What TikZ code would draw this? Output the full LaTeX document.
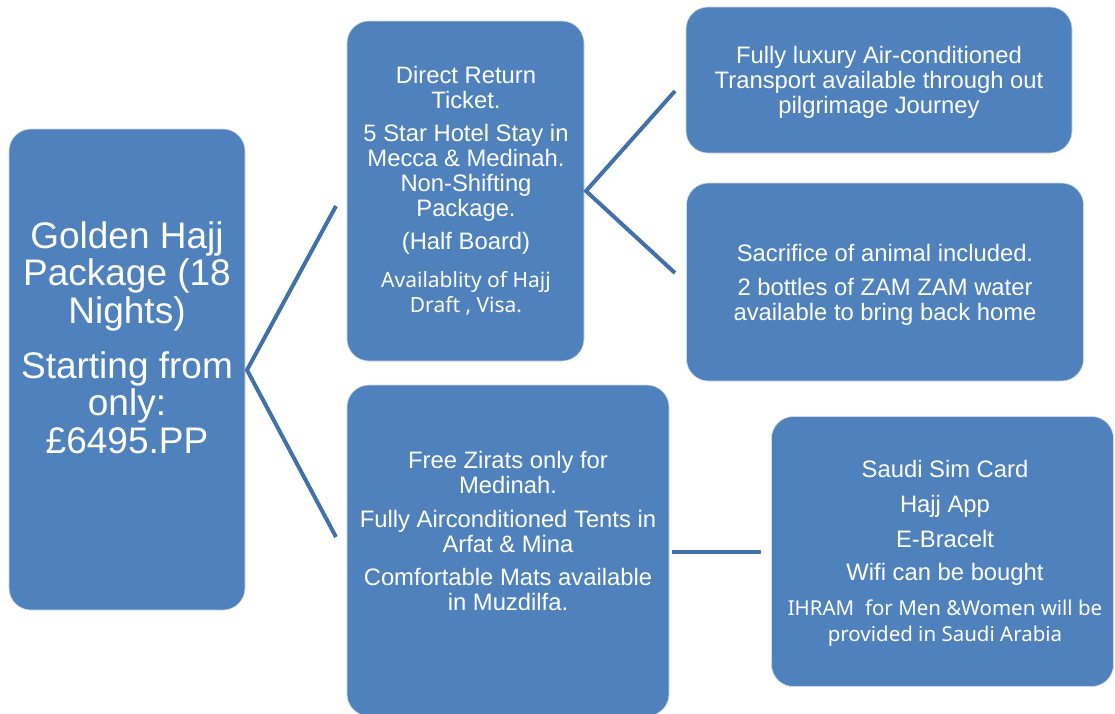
\documentclass[tikz,border=0pt]{standalone}
\usepackage{fontspec}
\setmainfont{Liberation Sans}
\newfontfamily\notofont{Noto Sans}
\definecolor{boxblue}{RGB}{79,129,189}
\definecolor{lineblue}{RGB}{66,113,170}

\begin{document}
\begin{tikzpicture}[x=1pt,y=-1pt,
    box/.style={draw=white!70!boxblue, line width=0.6pt, fill=boxblue, rounded corners=22pt, inner sep=0pt},
    txt/.style={text=white, align=center, anchor=north, inner sep=0pt, font=\fontsize{23.8}{25}\selectfont},
    link/.style={draw=lineblue, line width=4pt}]
  \useasboundingbox (0,0) rectangle (1115,713);

  \node[box, minimum width=236, minimum height=481] at (127,369.5) (pkg) {};
  \node[box, minimum width=237, minimum height=340] at (465.5,191) (svc) {};
  \node[box, minimum width=386, minimum height=146] at (879,80) (trans) {};
  \node[box, minimum width=397, minimum height=198] at (885,282) (sacr) {};
  \node[box, minimum width=322, minimum height=331] at (508,550.5) (tent) {};
  \node[box, minimum width=342, minimum height=270] at (942.5,551.5) (extra) {};

  \node[txt, font=\fontsize{37}{37.5}\selectfont] at (127,221) (pkgtext)
    {Golden Hajj\\Package (18\\Nights)\\[17.5pt]Starting from\\only:\\£6495.PP};
  \node[txt] at (466,66) (svctext)
    {Direct Return\\Ticket.\\[8pt]5 Star Hotel Stay in\\Mecca \& Medinah.\\Non-Shifting\\Package.\\[8pt](Half Board)\\[13pt]%
     {\notofont\fontsize{21}{25}\selectfont Availablity of Hajj}\\{\notofont\fontsize{21}{25}\selectfont Draft , Visa.}};
  \node[txt] at (879,46.3) (transtext)
    {Fully luxury Air-conditioned\\Transport available through out\\pilgrimage Journey};
  \node[txt] at (885,244.5) (sacrtext)
    {Sacrifice of animal included.\\[8.3pt]2 bottles of ZAM ZAM water\\available to bring back home};
  \node[txt] at (508,451) (tenttext)
    {Free Zirats only for\\Medinah.\\[9pt]Fully Airconditioned Tents in\\Arfat \& Mina\\[8.3pt]Comfortable Mats available\\in Muzdilfa.};
  \node[txt] at (945,459.7) (extratext)
    {Saudi Sim Card\\[10pt]Hajj App\\[10pt]E-Bracelt\\[8.3pt]Wifi can be bought\\[10pt]%
     {\notofont\fontsize{20.5}{25}\selectfont IHRAM\ \ for Men \&Women will be}\\[1pt]{\notofont\fontsize{20.5}{25}\selectfont provided in Saudi Arabia}};

  \coordinate (fork) at (247,370);
  \coordinate (svcin) at (336,206);
  \coordinate (tentin) at (336,537);
  \draw[link] (svcin) -- (fork) -- (tentin);

  \coordinate (fork2) at (586,191);
  \coordinate (transin) at (675,91);
  \coordinate (sacrin) at (675,273);
  \draw[link] (transin) -- (fork2) -- (sacrin);

  \coordinate (tentout) at (672,552);
  \coordinate (extrain) at (761,552);
  \draw[link] (tentout) -- (extrain);
\end{tikzpicture}
\end{document}
